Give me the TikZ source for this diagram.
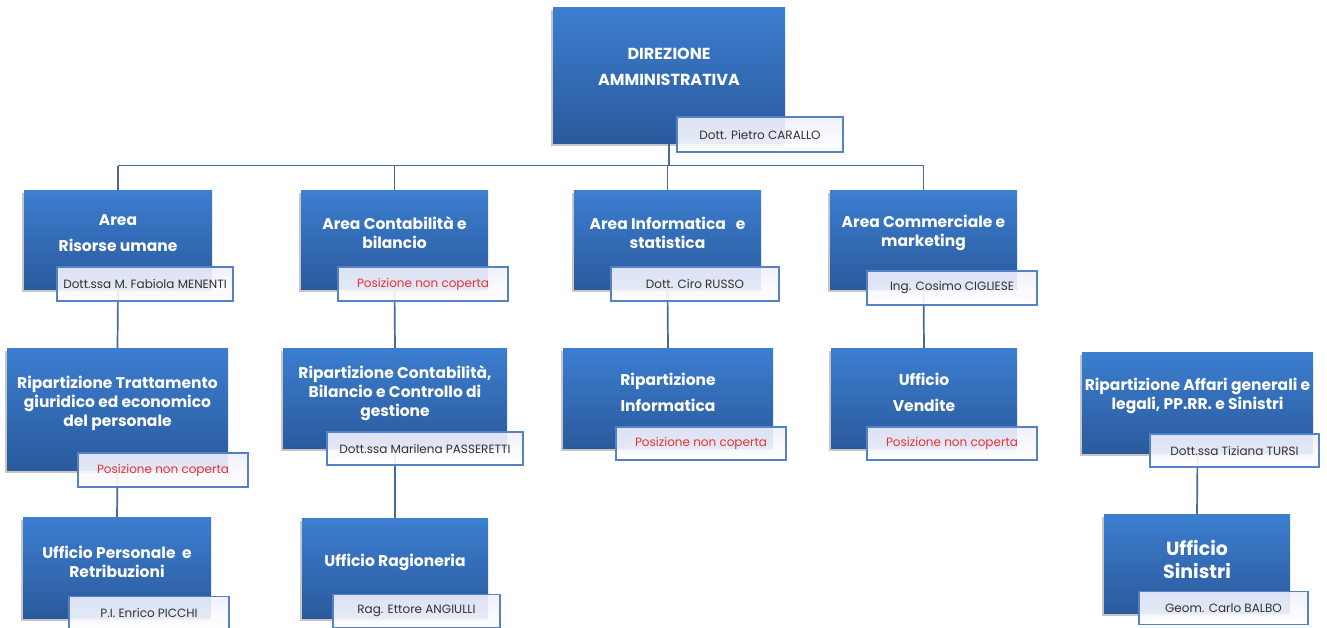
\documentclass[tikz,border=0pt]{standalone}
\usepackage{fontspec}
\setmainfont{Poppins}
\usetikzlibrary{shadows}

\definecolor{unittop}{RGB}{60,126,208}
\definecolor{unitbot}{RGB}{42,90,156}
\definecolor{tagline}{RGB}{84,130,196}
\definecolor{linkblue}{RGB}{72,106,152}
\definecolor{vacant}{RGB}{232,50,50}
\definecolor{nametext}{RGB}{50,50,50}

\tikzset{
  unit/.style={rectangle, inner sep=0pt, top color=unittop, bottom color=unitbot,
    minimum width=187, minimum height=100,
    drop shadow={shadow xshift=-2pt, shadow yshift=-3pt, opacity=0.45}},
  title/.style={text=white, align=center, font=\bfseries\fontsize{15.5}{19}\selectfont},
  tag/.style={rectangle, inner sep=0pt, draw=tagline, line width=1.3pt,
    top color=blue!6, bottom color=white, fill opacity=0.9, text opacity=1,
    minimum height=33, text=nametext, font=\fontsize{12}{14}\selectfont},
  vacanttag/.style={tag, text=vacant},
  link/.style={draw=linkblue, line width=1.7pt},
}

\begin{document}
\begin{tikzpicture}[x=1pt, y=-1pt]
    \clip (0,0) rectangle (1327,627);
    \useasboundingbox (0,0) rectangle (1327,627);

    % Boxes
    \node[unit, minimum width=232, minimum height=136] (dir) at (669,75) {};
    \node[unit, minimum width=188, minimum height=99] (area1) at (118,239.5) {};
    \node[unit, minimum height=99] (area2) at (394.5,239.5) {};
    \node[unit, minimum height=99] (area3) at (667.5,239.5) {};
    \node[unit, minimum height=99] (area4) at (923.5,239.5) {};
    \node[unit, minimum width=221, minimum height=122] (rip1) at (117.5,409) {};
    \node[unit, minimum width=224] (rip2) at (395,398) {};
    \node[unit, minimum width=210] (rip3) at (668,398) {};
    \node[unit, minimum width=186] (vend) at (924,398) {};
    \node[unit, minimum width=231, minimum height=101] (affari) at (1197.5,402.5) {};
    \node[unit, minimum width=188, minimum height=101] (pers) at (117,567.5) {};
    \node[unit, minimum width=186] (ragion) at (395,568) {};
    \node[unit, minimum width=186, minimum height=99] (sinistri) at (1197,563.5) {};

    % Connectors
    \coordinate (bus) at (0,165.5);
    \draw[link] (dir.south) -- (dir.south |- bus);
    \draw[link] (area1.north |- bus) -- (area4.north |- bus);
    \draw[link] (area1.north) -- (area1.north |- bus);
    \draw[link] (area2.north) -- (area2.north |- bus);
    \draw[link] (area3.north) -- (area3.north |- bus);
    \draw[link] (area4.north) -- (area4.north |- bus);
    \draw[link] (area1.south) -- (rip1.north);
    \draw[link] (area2.south) -- (rip2.north);
    \draw[link] (area3.south) -- (rip3.north);
    \draw[link] (area4.south) -- (vend.north);
    \draw[link] (rip1.south) -- (pers.north);
    \draw[link] (rip2.south) -- (ragion.north);
    \draw[link] (affari.south) -- (sinistri.north);

    % Titles
    \node[title, font=\bfseries\fontsize{16}{19}\selectfont] (dir-title) at (669,67) {DIREZIONE\\[7pt]AMMINISTRATIVA};
    \node[title] (area1-title) at (118,233) {Area\\[7pt]Risorse umane};
    \node[title] (area2-title) at (394.5,233) {Area Contabilità e\\bilancio};
    \node[title] (area3-title) at (667.5,233) {Area Informatica~~ e\\statistica};
    \node[title] (area4-title) at (923.5,233) {Area Commerciale e\\marketing};
    \node[title] (rip1-title) at (117.5,403) {Ripartizione Trattamento\\giuridico ed economico\\del personale};
    \node[title] (rip2-title) at (395,393) {Ripartizione Contabilità,\\Bilancio e Controllo di\\gestione};
    \node[title] (rip3-title) at (668,392) {Ripartizione\\[7pt]Informatica};
    \node[title] (vend-title) at (924,392) {Ufficio\\[7pt]Vendite};
    \node[title] (affari-title) at (1197.5,396) {Ripartizione Affari generali e\\legali, PP.RR. e Sinistri};
    \node[title] (pers-title) at (117,562) {Ufficio Personale~ e\\Retribuzioni};
    \node[title] (ragion-title) at (395,562) {Ufficio Ragioneria};
    \node[title, font=\bfseries\fontsize{19}{23}\selectfont] (sinistri-title) at (1197,559) {Ufficio\\Sinistri};

    % Name tags
    \node[tag, minimum width=166, minimum height=35] (dir-tag) at (760,134.5) {Dott. Pietro CARALLO};
    \node[tag, minimum width=176, minimum height=34] (area1-tag) at (145,284) {Dott.ssa M. Fabiola MENENTI};
    \node[vacanttag, minimum width=170, minimum height=34] (area2-tag) at (423,284) {Posizione non coperta};
    \node[tag, minimum width=168, minimum height=34] (area3-tag) at (695,284) {Dott. Ciro RUSSO};
    \node[tag, minimum width=170, minimum height=34] (area4-tag) at (952,288) {Ing. Cosimo CIGLIESE};
    \node[vacanttag, minimum width=170, minimum height=34] (rip1-tag) at (163,470) {Posizione non coperta};
    \node[tag, minimum width=196] (rip2-tag) at (425,448.5) {Dott.ssa Marilena PASSERETTI};
    \node[vacanttag, minimum width=170] (rip3-tag) at (701,443.5) {Posizione non coperta};
    \node[vacanttag, minimum width=170] (vend-tag) at (952,443.5) {Posizione non coperta};
    \node[tag, minimum width=169] (affari-tag) at (1234.5,450.5) {Dott.ssa Tiziana TURSI};
    \node[tag, minimum width=160] (pers-tag) at (149,613) {P.I. Enrico PICCHI};
    \node[tag, minimum width=167] (ragion-tag) at (416.5,611) {Rag. Ettore ANGIULLI};
    \node[tag, minimum width=169] (sinistri-tag) at (1223.5,608) {Geom. Carlo BALBO};
\end{tikzpicture}
\end{document}
